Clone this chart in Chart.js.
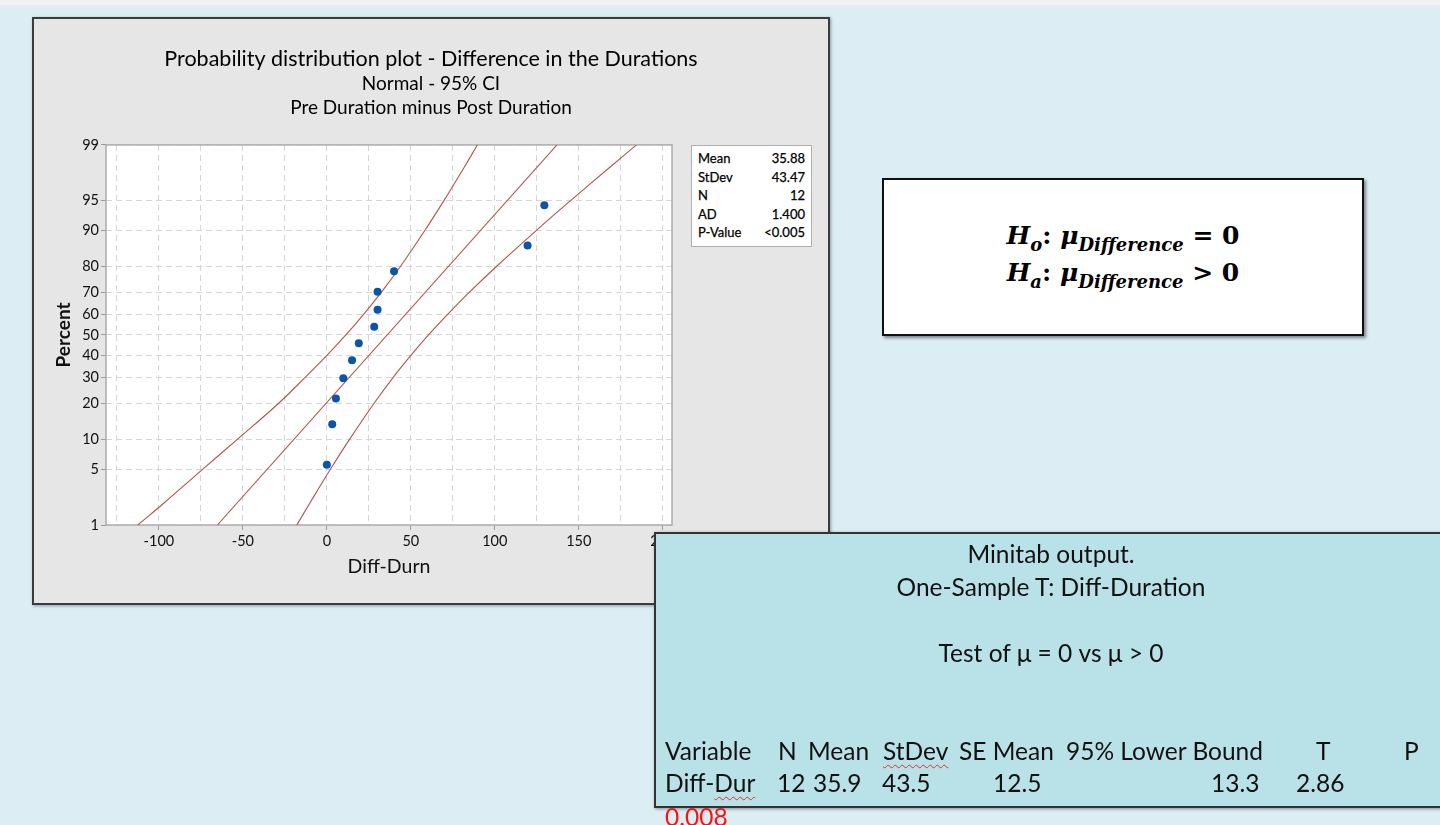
<!DOCTYPE html>
<html>
<head>
<meta charset="utf-8">
<script src="https://cdn.jsdelivr.net/npm/chart.js@4.4.1/dist/chart.umd.min.js"></script>
<style>
  html, body { margin:0; padding:0; }
  body { width:1440px; height:825px; background:#dcedf4; position:relative; overflow:hidden; font-family:'Lato', sans-serif; }
  #topstrip { position:absolute; left:0; top:0; width:1440px; height:5px; background:#f1f1f1; }
  #panel { position:absolute; left:32px; top:17px; width:798px; height:588px; box-sizing:border-box; border:2px solid #3c3c3c; background:#e6e6e6; box-shadow:1px 1px 3px rgba(0,0,0,.35); }
  #stats { position:absolute; left:691px; top:145px; width:121px; height:102px; box-sizing:border-box; border:1px solid #b0b0b0; background:#fff; padding:3px 6px 0 6px; font-family:'Lato', sans-serif; font-size:13px; color:#000; -webkit-text-stroke:0.25px #000; }
  #stats .row { display:flex; justify-content:space-between; height:18.6px; line-height:18.6px; }
  #hyp { position:absolute; left:882px; top:178px; width:482px; height:158px; box-sizing:border-box; border:2.5px solid #111; background:#fff; box-shadow:2px 2px 3px rgba(0,0,0,.45); }
  .hl { position:absolute; left:0; width:100%; text-align:center; font-family:'DejaVu Serif', serif; font-weight:bold; font-size:25px; color:#000; line-height:30px; }
  .hl i { font-style:italic; }
  .hl sub { font-size:18px; font-style:italic; vertical-align:baseline; position:relative; top:7px; }
  #mtb { position:absolute; left:654px; top:532px; width:820px; height:276px; box-sizing:border-box; border:2px solid #333; background:#b9e1e8; box-shadow:1px 1px 3px rgba(0,0,0,.4); }
  .mt { position:absolute; font-family:'Lato', sans-serif; font-size:24.5px; color:#111; line-height:28px; white-space:nowrap; }
  .ctr { left:654px; width:794px; text-align:center; }
  .sq { text-decoration:underline wavy #e03030; text-decoration-thickness:1px; text-underline-offset:4px; }
</style>
</head>
<body>
<div id="topstrip"></div>
<div id="panel"><canvas id="chart"></canvas></div>
<div id="stats"></div>

<div id="hyp">
  <div class="hl" style="top:41px"><i>H</i><sub>o</sub>: <i>μ</i><sub>Difference</sub> = 0</div>
  <div class="hl" style="top:78px"><i>H</i><sub>a</sub>: <i>μ</i><sub>Difference</sub> &gt; 0</div>
</div>

<div id="mtb"></div>
<div class="mt ctr" style="top:540px">Minitab output.</div>
<div class="mt ctr" style="top:573px">One-Sample T: Diff-Duration</div>
<div class="mt ctr" style="top:639px">Test of μ = 0 vs μ &gt; 0</div>

<div class="mt" style="left:665px;top:737px">Variable</div>
<div class="mt" style="left:778px;top:737px">N</div>
<div class="mt" style="left:808px;top:737px">Mean</div>
<div class="mt" style="left:883px;top:737px"><span class="sq">StDev</span></div>
<div class="mt" style="left:959px;top:737px">SE Mean</div>
<div class="mt" style="left:1066px;top:737px">95% Lower Bound</div>
<div class="mt" style="left:1316px;top:737px">T</div>
<div class="mt" style="left:1404px;top:737px">P</div>

<div class="mt" style="left:665px;top:769px">Diff-<span class="sq">Dur</span></div>
<div class="mt" style="left:777px;top:769px">12</div>
<div class="mt" style="left:813px;top:769px">35.9</div>
<div class="mt" style="left:882px;top:769px">43.5</div>
<div class="mt" style="left:993px;top:769px">12.5</div>
<div class="mt" style="left:1211px;top:769px">13.3</div>
<div class="mt" style="left:1296px;top:769px">2.86</div>
<div class="mt" style="left:665px;top:803px;color:#ff1010">0.008</div>

<script>
// ---------------- data ----------------
const diffValues   = [0, 3.2, 5.4, 9.8, 15, 19, 28.2, 30.2, 30.2, 40, 119.5, 129.5];
const diffPercents = [5.6, 13.7, 21.8, 29.8, 37.9, 46.0, 54.0, 62.1, 70.2, 78.2, 86.3, 94.4];

const fitPercents = [1, 99];
const fitX        = [-65.2, 137.0];

const bandPercents = [1, 2, 5, 10, 20, 30, 40, 50, 60, 70, 80, 90, 95, 98, 99];
const lowerBandX   = [-112.6, -96.8, -74.0, -53.5, -29.0, -13.2, -0.1, 11.3, 21.9, 32.5, 43.9, 58.4, 69.7, 81.8, 89.6];
const upperBandX   = [-17.9, -10.0, 2.1, 13.4, 27.9, 39.3, 49.9, 60.5, 71.9, 84.9, 101.1, 124.8, 145.1, 168.5, 184.3];

const yTickPercents = [1, 5, 10, 20, 30, 40, 50, 60, 70, 80, 90, 95, 99];
const xGridValues   = [-125, -100, -75, -50, -25, 0, 25, 50, 75, 100, 125, 150, 175, 200];
const xLabelValues  = [-100, -50, 0, 50, 100, 150, 200];
const xMin = -131.5, xMax = 205.5;

const statLabels = ['Mean', 'StDev', 'N', 'AD', 'P-Value'];
const statValues = ['35.88', '43.47', '12', '1.400', '<0.005'];

// ---------------- stats box ----------------
const statsEl = document.getElementById('stats');
statLabels.forEach((l, i) => {
  const r = document.createElement('div');
  r.className = 'row';
  const a = document.createElement('span'); a.textContent = l;
  const b = document.createElement('span'); b.textContent = statValues[i];
  r.appendChild(a); r.appendChild(b); statsEl.appendChild(r);
});

// ---------------- normal probability scale ----------------
function probit(p) {
  const a = [-3.969683028665376e+01, 2.209460984245205e+02, -2.759285104469687e+02, 1.383577518672690e+02, -3.066479806614716e+01, 2.506628277459239e+00];
  const b = [-5.447609879822406e+01, 1.615858368580409e+02, -1.556989798598866e+02, 6.680131188771972e+01, -1.328068155288572e+01];
  const c = [-7.784894002430293e-03, -3.223964580411365e-01, -2.400758277161838e+00, -2.549671664969546e+00, 4.374664141464968e+00, 2.938163982698783e+00];
  const d = [7.784695709041462e-03, 3.224671290700398e-01, 2.445134137142996e+00, 3.754408661907416e+00];
  const plow = 0.02425, phigh = 1 - plow;
  let q, r;
  if (p < plow) {
    q = Math.sqrt(-2 * Math.log(p));
    return (((((c[0]*q+c[1])*q+c[2])*q+c[3])*q+c[4])*q+c[5]) / ((((d[0]*q+d[1])*q+d[2])*q+d[3])*q+1);
  }
  if (p > phigh) {
    q = Math.sqrt(-2 * Math.log(1 - p));
    return -(((((c[0]*q+c[1])*q+c[2])*q+c[3])*q+c[4])*q+c[5]) / ((((d[0]*q+d[1])*q+d[2])*q+d[3])*q+1);
  }
  q = p - 0.5; r = q * q;
  return (((((a[0]*r+a[1])*r+a[2])*r+a[3])*r+a[4])*r+a[5])*q / (((((b[0]*r+b[1])*r+b[2])*r+b[3])*r+b[4])*r+1);
}
function normCdf(z) {
  const t = 1 / (1 + 0.2316419 * Math.abs(z));
  const dd = 0.3989423 * Math.exp(-z * z / 2);
  let p = dd * t * (0.3193815 + t * (-0.3565638 + t * (1.781478 + t * (-1.821256 + t * 1.330274))));
  return z > 0 ? 1 - p : p;
}

class ProbabilityScale extends Chart.LinearScale {
  determineDataLimits() { this.min = this.options.min; this.max = this.options.max; }
  buildTicks() { return yTickPercents.map(v => ({ value: v })); }
  configure() {
    super.configure();
    this._zStart = probit(this.min / 100);
    this._zEnd = probit(this.max / 100);
  }
  getPixelForValue(value) {
    if (value === null || value === undefined || isNaN(value)) return NaN;
    const z = probit(value / 100);
    return this.getPixelForDecimal((z - this._zStart) / (this._zEnd - this._zStart));
  }
  getValueForPixel(pixel) {
    const dec = this.getDecimalForPixel(pixel);
    return 100 * normCdf(this._zStart + dec * (this._zEnd - this._zStart));
  }
}
ProbabilityScale.id = 'probability';
ProbabilityScale.defaults = {};
Chart.register(ProbabilityScale);

// ---------------- plugins ----------------
const plotFrame = {
  id: 'plotFrame',
  beforeDraw(chart) {
    const { ctx, chartArea: a } = chart;
    ctx.save(); ctx.fillStyle = '#ffffff';
    ctx.fillRect(a.left, a.top, a.right - a.left, a.bottom - a.top);
    ctx.restore();
  },
  beforeDatasetsDraw(chart) {
    const { ctx, chartArea: a } = chart;
    ctx.save(); ctx.strokeStyle = '#acacac'; ctx.lineWidth = 1.5;
    ctx.strokeRect(a.left, a.top, a.right - a.left, a.bottom - a.top);
    ctx.restore();
  }
};

const toPts = (xs, ys) => xs.map((x, i) => ({ x: x, y: ys[i] }));
const lineColor = '#b5524e';
const tickFont = { family: 'Lato', size: 14.5 };

new Chart(document.getElementById('chart'), {
  type: 'scatter',
  data: {
    datasets: [
      { label: 'Diff-Durn', data: toPts(diffValues, diffPercents), backgroundColor: '#0a55a7', pointRadius: 4, pointBorderWidth: 0, showLine: false },
      { label: 'Fit', data: toPts(fitX, fitPercents), showLine: true, borderColor: lineColor, borderWidth: 1.1, pointRadius: 0 },
      { label: 'Lower', data: toPts(lowerBandX, bandPercents), showLine: true, borderColor: lineColor, borderWidth: 1.1, pointRadius: 0, tension: 0.4 },
      { label: 'Upper', data: toPts(upperBandX, bandPercents), showLine: true, borderColor: lineColor, borderWidth: 1.1, pointRadius: 0, tension: 0.4 }
    ]
  },
  options: {
    responsive: true,
    maintainAspectRatio: false,
    animation: false,
    layout: { padding: 0 },
    plugins: {
      legend: { display: false },
      tooltip: { enabled: false },
      title: { display: true, text: 'Probability distribution plot - Difference in the Durations', color: '#000',
               font: { family: 'Lato', size: 21.5, weight: 'normal', lineHeight: 1.1 }, padding: { top: 28.2, bottom: 1.1 } },
      subtitle: { display: true, text: ['Normal - 95% CI', 'Pre Duration minus Post Duration'], color: '#000',
               font: { family: 'Lato', size: 19, weight: 'normal', lineHeight: 1.263 }, padding: { top: 0, bottom: 25 } }
    },
    scales: {
      x: {
        type: 'linear', min: xMin, max: xMax,
        afterBuildTicks: s => { s.ticks = xGridValues.map(v => ({ value: v })); },
        afterFit: s => { s.height = 78; },
        ticks: { autoSkip: false, maxRotation: 0, padding: 3, color: '#111', font: tickFont,
                 callback: v => xLabelValues.includes(v) ? String(v) : '' },
        grid: { color: '#d6d6d6', lineWidth: 1, tickLength: 5, tickBorderDash: [],
                tickColor: ctx => (ctx.tick && xLabelValues.includes(ctx.tick.value)) ? '#9a9a9a' : 'rgba(0,0,0,0)' },
        border: { display: false, dash: [6, 4] },
        title: { display: true, text: 'Diff-Durn', color: '#111', font: { family: 'Lato', size: 19.5, lineHeight: 1.2 }, padding: { top: 0, bottom: 25 } }
      },
      y: {
        type: 'probability', min: 1, max: 99,
        afterFit: s => { s.width = 72; },
        ticks: { autoSkip: false, padding: 2, color: '#111', font: tickFont, callback: v => String(v) },
        grid: { color: '#d6d6d6', lineWidth: 1, tickLength: 5, tickColor: '#9a9a9a', tickBorderDash: [] },
        border: { display: false, dash: [6, 4] },
        title: { display: true, text: 'Percent', color: '#111', font: { family: 'Lato', size: 19, weight: 'bold', lineHeight: 1.2 }, padding: { top: 18, bottom: 0 } }
      },
      yRight: {
        type: 'linear', axis: 'y', position: 'right', display: true, min: 0, max: 1,
        afterFit: s => { s.width = 156; },
        ticks: { display: false },
        grid: { display: false },
        border: { display: false }
      }
    }
  },
  plugins: [plotFrame]
});
</script>
</body>
</html>
